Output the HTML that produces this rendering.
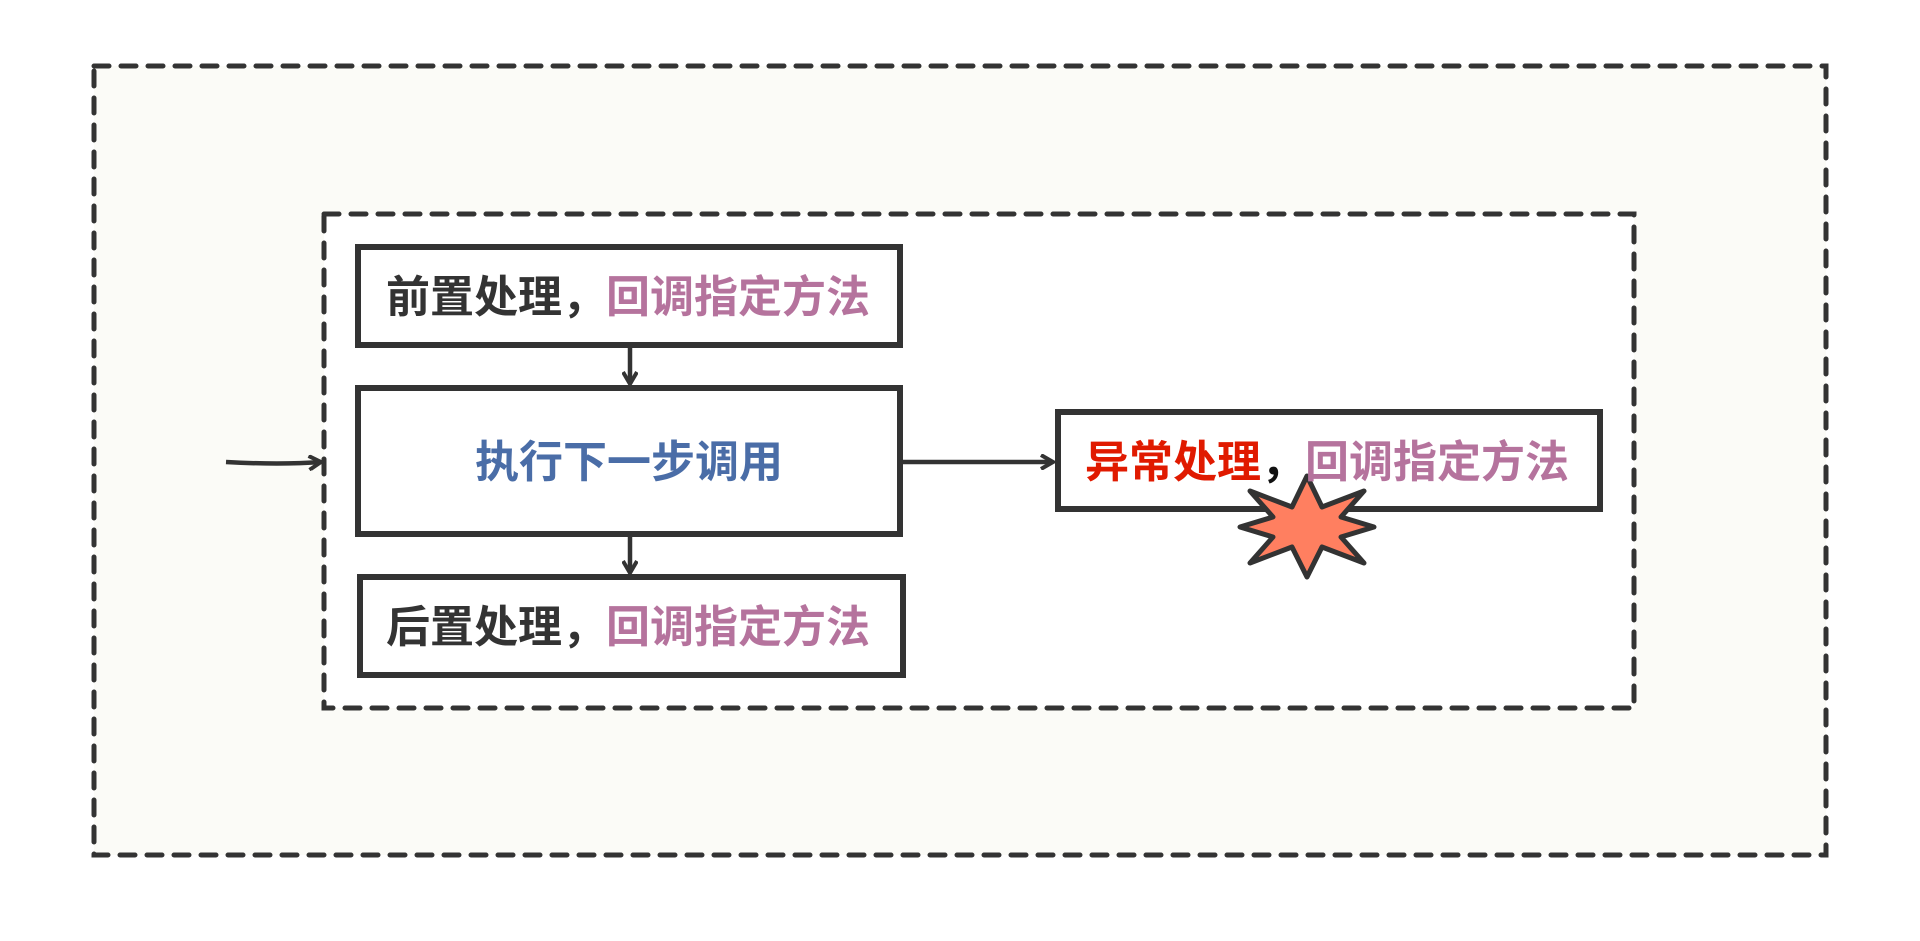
<!DOCTYPE html>
<html><head><meta charset="utf-8"><style>
body{margin:0;width:1920px;height:941px;background:#fff;overflow:hidden}
svg{position:absolute;left:0;top:0}
text{font-family:"Liberation Sans","Noto Sans CJK SC",sans-serif;font-weight:bold;font-size:44px}
</style></head><body>
<svg width="1920" height="941" viewBox="0 0 1920 941">
<defs><marker id="a" markerWidth="16" markerHeight="16" refX="13" refY="8" orient="auto" markerUnits="userSpaceOnUse"><path d="M1,1 L13,8 L1,15" fill="none" stroke="#333" stroke-width="4"/></marker></defs>
<rect x="94" y="66" width="1732" height="789" fill="#fbfbf7" stroke="#333" stroke-width="5" stroke-linecap="round" stroke-dasharray="15,12"/>
<rect x="324" y="214" width="1310" height="494" fill="#fff" stroke="#333" stroke-width="5" stroke-linecap="round" stroke-dasharray="15,12"/>
<g fill="#fff" stroke="#333" stroke-width="6">
<rect x="358" y="247" width="542" height="98"/>
<rect x="358" y="388" width="542" height="146"/>
<rect x="360" y="577" width="543" height="98"/>
<rect x="1058" y="412" width="542" height="97"/>
</g>
<g stroke="#333" stroke-width="4.5" fill="none" marker-end="url(#a)">
<path d="M226,462 Q280,465 321,462"/>
<path d="M902,462 L1053,462"/>
<path d="M630,347 L630,384"/>
<path d="M630,536 L630,573"/>
</g>
<path d="M1307,476 L1322,507 L1364,491 L1341,517 L1374,527 L1341,537 L1364,563 L1322,547 L1307,577 L1292,547 L1250,563 L1273,537 L1240,527 L1273,517 L1250,491 L1292,507 Z" fill="#ff7f60" stroke="#333" stroke-width="5" stroke-linejoin="round"/>
<text x="386" y="312" fill="#333">前置处理，<tspan fill="#b5739d">回调指定方法</tspan></text>
<text x="629" y="477" fill="#4a6da7" text-anchor="middle">执行下一步调用</text>
<text x="386" y="642" fill="#333">后置处理，<tspan fill="#b5739d">回调指定方法</tspan></text>
<text x="1085" y="477" fill="#e01a00">异常处理<tspan fill="#111">，</tspan><tspan fill="#b5739d">回调指定方法</tspan></text>
</svg>
</body></html>
